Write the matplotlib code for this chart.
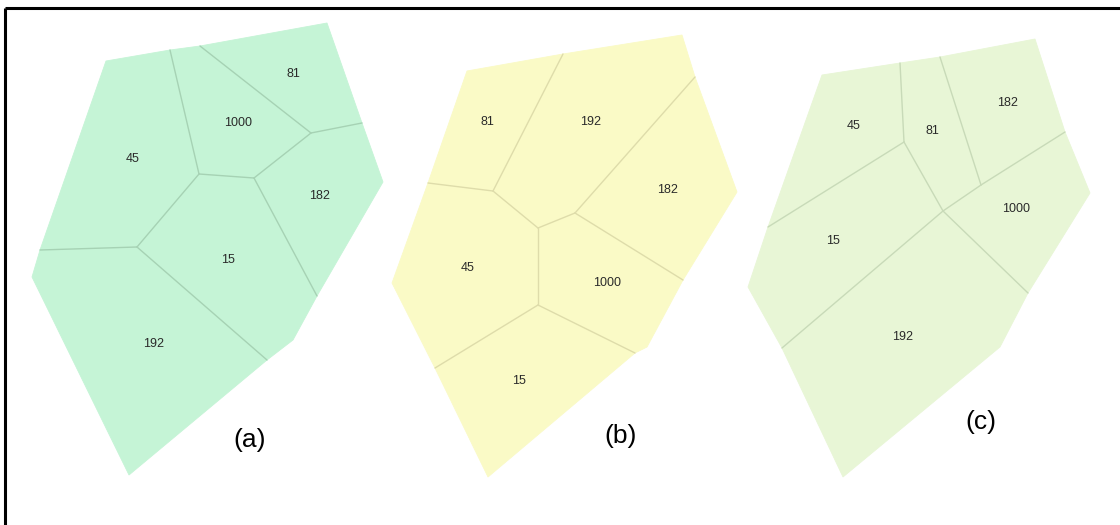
import matplotlib
matplotlib.use("Agg")
import matplotlib.pyplot as plt
from matplotlib.patches import Polygon
from collections import Counter

plt.rcParams['font.family'] = ['Liberation Sans', 'DejaVu Sans']

# ---- panel (a): vertices of the cells (drawing units, y downward) ----
a_pts = {
    "tl": (106, 61), "t1": (170, 50), "t2": (200, 46), "tr": (327, 23),
    "r1": (362, 123), "r": (383, 182), "r2": (317, 296), "r3": (293, 340),
    "b1": (267, 360), "b": (129, 475), "l": (32, 277), "l1": (40, 250),
    "v1": (199, 174), "v2": (254, 178), "v3": (311, 133), "v4": (137, 247),
}
a_cells = {
    "45": ["tl", "t1", "v1", "v4", "l1"],
    "1000": ["t1", "t2", "v3", "v2", "v1"],
    "81": ["t2", "tr", "r1", "v3"],
    "182": ["v3", "r1", "r", "r2", "v2"],
    "15": ["v1", "v2", "r2", "r3", "b1", "v4"],
    "192": ["l1", "v4", "b1", "b", "l"],
}
a_label_pos = {
    "81": (293, 74), "1000": (238, 123), "45": (133, 159),
    "182": (319, 196), "15": (228, 260), "192": (154, 344),
}

# ---- panel (b) ----
b_pts = {
    "tl": (467, 71), "t1": (563, 54), "tr": (682, 35), "r1": (695, 77),
    "r": (737, 192), "r2": (683, 280), "r3": (647, 347), "b1": (635, 353),
    "b": (488, 477), "l1": (435, 368), "l": (392, 283), "l2": (428, 183),
    "w1": (493, 191), "w2": (538, 228), "w3": (575, 213), "w4": (538, 305),
}
b_cells = {
    "81": ["tl", "t1", "w1", "l2"],
    "192": ["t1", "tr", "r1", "w3", "w2", "w1"],
    "182": ["r1", "r", "r2", "w3"],
    "45": ["l2", "w1", "w2", "w4", "l1", "l"],
    "1000": ["w2", "w3", "r2", "r3", "b1", "w4"],
    "15": ["l1", "w4", "b1", "b"],
}
b_label_pos = {
    "81": (487, 122), "192": (591, 122), "182": (667, 190),
    "45": (468, 268), "1000": (607, 283), "15": (519, 381),
}

# ---- panel (c) ----
c_pts = {
    "tl": (822, 75), "t1": (900, 63), "t2": (940, 57), "tr": (1035, 39),
    "r1": (1065, 132), "r": (1090, 193), "r2": (1028, 293), "r3": (1000, 347),
    "b": (843, 477), "l1": (782, 348), "l": (748, 287), "l2": (768, 227),
    "x1": (904, 142), "x2": (943, 211), "x3": (981, 185),
}
c_cells = {
    "45": ["tl", "t1", "x1", "l2"],
    "81": ["t1", "t2", "x3", "x2", "x1"],
    "182": ["t2", "tr", "r1", "x3"],
    "1000": ["x3", "r1", "r", "r2", "x2"],
    "15": ["l2", "x1", "x2", "l1", "l"],
    "192": ["x2", "r2", "r3", "b", "l1"],
}
c_label_pos = {
    "182": (1007, 103), "45": (854, 126), "81": (932, 131),
    "1000": (1016, 209), "15": (833, 241), "192": (903, 337),
}

panel_titles = ["(a)", "(b)", "(c)"]
panel_title_pos = [(250, 440), (621, 436), (981, 422)]
fills = ["#c5f4d6", "#fafac6", "#e8f6d6"]
edges = ["#a6d2b4", "#dedcaa", "#c8dab8"]

fig = plt.figure(figsize=(11.2, 5.25), dpi=100)
ax = fig.add_axes([0, 0, 1, 1])
ax.set_xlim(0, 1120)
ax.set_ylim(525, 0)
ax.axis("off")

panels = [(a_pts, a_cells, a_label_pos), (b_pts, b_cells, b_label_pos),
          (c_pts, c_cells, c_label_pos)]
for i, (pts, cells, lpos) in enumerate(panels):
    shared = Counter()
    for name, keys in cells.items():
        ax.add_patch(Polygon([pts[k] for k in keys], closed=True,
                             facecolor=fills[i], edgecolor=fills[i],
                             linewidth=0.6))
        for j in range(len(keys)):
            shared[frozenset((keys[j], keys[(j + 1) % len(keys)]))] += 1
    # boundaries between neighbouring cells only; the outer rim stays unstroked
    for edge, n in shared.items():
        if n == 2:
            p, q = (pts[k] for k in edge)
            ax.plot([p[0], q[0]], [p[1], q[1]], color=edges[i],
                    linewidth=1.0, solid_capstyle="round")
    for name, (x, y) in lpos.items():
        ax.text(x, y, name, ha="center", va="center", fontsize=9,
                color="#2a2a2a")
    tx, ty = panel_title_pos[i]
    ax.text(tx, ty, panel_titles[i], ha="center", va="center", fontsize=19,
            color="black")

# frame lines along the top and left edges
ax.plot([5, 1120], [8, 8], color="black", linewidth=2.2, solid_capstyle="butt")
ax.plot([5, 5], [8, 525], color="black", linewidth=2.2, solid_capstyle="butt")

fig.savefig("out.png", dpi=100)
